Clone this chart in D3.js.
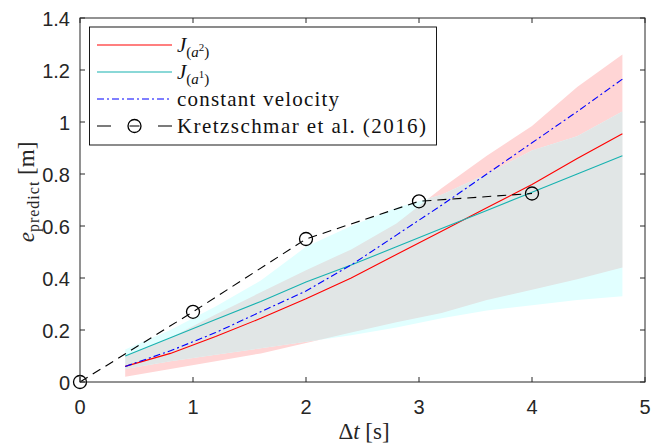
<!DOCTYPE html>
<html><head><meta charset="utf-8">
<script src="https://cdn.jsdelivr.net/npm/d3@7"></script>
<style>body{margin:0;background:#fff}</style>
</head><body>
<svg id="c" width="652" height="445"></svg>
<script>
// ---- data ----
const tGrid = [0.4,0.8,1.2,1.6,2.0,2.4,2.8,3.2,3.6,4.0,4.4,4.8];
const jA2 = [0.06,0.11,0.175,0.245,0.32,0.40,0.49,0.58,0.67,0.76,0.86,0.955];
const jA2Upper = [0.10,0.17,0.26,0.345,0.43,0.51,0.61,0.745,0.87,0.985,1.135,1.26];
const jA2Lower = [0.02,0.05,0.08,0.11,0.15,0.19,0.23,0.265,0.315,0.355,0.395,0.44];
const jA1 = [0.10,0.17,0.24,0.31,0.385,0.45,0.52,0.59,0.66,0.73,0.80,0.87];
const jA1Upper = [0.125,0.20,0.29,0.39,0.52,0.60,0.67,0.72,0.80,0.89,0.945,1.04];
const jA1Lower = [0.05,0.08,0.105,0.13,0.155,0.18,0.21,0.245,0.275,0.295,0.315,0.33];
const constVel = [0.06,0.12,0.19,0.27,0.35,0.45,0.565,0.68,0.80,0.92,1.04,1.165];
const kretzT = [0,1,2,3,4];
const kretzV = [0,0.27,0.55,0.695,0.725];
const xTicks = [0,1,2,3,4,5];
const yTicks = [0,0.2,0.4,0.6,0.8,1,1.2,1.4];

const svg = d3.select("#c");
const L=80,R=645,T=18,B=382;
const x = d3.scaleLinear().domain([0,5]).range([L,R]);
const y = d3.scaleLinear().domain([0,1.4]).range([B,T]);
const axisColor = "#262626";

const area = (lo,hi)=>d3.area().x((d,i)=>x(tGrid[i])).y0((d,i)=>y(lo[i])).y1((d,i)=>y(hi[i]))(tGrid);
const defs = svg.append("defs");
defs.append("clipPath").attr("id","clipA1").append("path").attr("d",area(jA1Lower,jA1Upper));

svg.append("path").attr("d",area(jA2Lower,jA2Upper)).attr("fill","#ffd5d5");
svg.append("path").attr("d",area(jA1Lower,jA1Upper)).attr("fill","#e1ffff");
svg.append("path").attr("d",area(jA2Lower,jA2Upper)).attr("fill","#e1e6e6").attr("clip-path","url(#clipA1)");

const line = vals=>d3.line().x((d,i)=>x(tGrid[i])).y((d,i)=>y(vals[i]))(tGrid);
svg.append("path").attr("d",line(jA2)).attr("fill","none").attr("stroke","#ff0000").attr("stroke-width",1.1);
svg.append("path").attr("d",line(jA1)).attr("fill","none").attr("stroke","#17b2b0").attr("stroke-width",1.1);
svg.append("path").attr("d",line(constVel)).attr("fill","none").attr("stroke","#0000ff").attr("stroke-width",1.1).attr("stroke-dasharray","7,3,2,3");
svg.append("path").attr("d",d3.line().x((d,i)=>x(kretzT[i])).y(d=>y(d))(kretzV)).attr("fill","none").attr("stroke","#000").attr("stroke-width",1.1).attr("stroke-dasharray","9,6");
svg.selectAll("circle.k").data(kretzV).join("circle").attr("class","k")
  .attr("cx",(d,i)=>x(kretzT[i])).attr("cy",d=>y(d)).attr("r",6.5).attr("fill","none").attr("stroke","#000").attr("stroke-width",1.3);

// axes box
const tl=5;
const g = svg.append("g");
g.append("rect").attr("x",L).attr("y",T).attr("width",R-L).attr("height",B-T).attr("fill","none").attr("stroke",axisColor).attr("stroke-width",1);
const sans = "Liberation Sans, Arial, sans-serif";
xTicks.forEach(v=>{
  g.append("line").attr("x1",x(v)).attr("x2",x(v)).attr("y1",B).attr("y2",B-tl).attr("stroke",axisColor);
  g.append("line").attr("x1",x(v)).attr("x2",x(v)).attr("y1",T).attr("y2",T+tl).attr("stroke",axisColor);
  g.append("text").attr("x",x(v)).attr("y",B+32).attr("text-anchor","middle").attr("fill",axisColor)
   .attr("font-family",sans).attr("font-size",20).text(d3.format("")(v));
});
yTicks.forEach(v=>{
  g.append("line").attr("x1",L).attr("x2",L+tl).attr("y1",y(v)).attr("y2",y(v)).attr("stroke",axisColor);
  g.append("line").attr("x1",R).attr("x2",R-tl).attr("y1",y(v)).attr("y2",y(v)).attr("stroke",axisColor);
  g.append("text").attr("x",L-10).attr("y",y(v)+7.5).attr("text-anchor","end").attr("fill",axisColor)
   .attr("font-family",sans).attr("font-size",20).text(d3.format("")(v));
});

const serif = "Liberation Serif, Times New Roman, serif";
// x label
const xl = svg.append("text").attr("x",364).attr("y",439).attr("text-anchor","middle").attr("font-family",serif).attr("font-size",23).attr("fill","#262626");
xl.append("tspan").text("Δ");
xl.append("tspan").attr("font-style","italic").text("t");
xl.append("tspan").text(" [s]");
// y label
const yl = svg.append("text").attr("transform","translate(34,192) rotate(-90)").attr("text-anchor","middle").attr("font-family",serif).attr("font-size",23).attr("fill","#262626");
yl.append("tspan").attr("font-style","italic").text("e");
yl.append("tspan").attr("font-size",16).attr("letter-spacing",1).attr("dy",5).text("predict");
yl.append("tspan").attr("dy",-5).text(" [m]");

// legend
const lg = svg.append("g");
lg.append("rect").attr("x",89.5).attr("y",27).attr("width",347).attr("height",118).attr("fill","#fff").attr("stroke","#000").attr("stroke-width",0.9);
const rows=[45,72,99,126];
const lx1=97,lx2=172,tx=177;
lg.append("line").attr("x1",lx1).attr("x2",lx2).attr("y1",rows[0]).attr("y2",rows[0]).attr("stroke","#ff0000").attr("stroke-width",1.1);
lg.append("line").attr("x1",lx1).attr("x2",lx2).attr("y1",rows[1]).attr("y2",rows[1]).attr("stroke","#17b2b0").attr("stroke-width",1.1);
lg.append("line").attr("x1",lx1).attr("x2",lx2).attr("y1",rows[2]).attr("y2",rows[2]).attr("stroke","#0000ff").attr("stroke-width",1.1).attr("stroke-dasharray","7,3,2,3");
lg.append("line").attr("x1",lx1).attr("x2",lx1+14).attr("y1",rows[3]).attr("y2",rows[3]).attr("stroke","#333").attr("stroke-width",1.3);
lg.append("line").attr("x1",lx2-14).attr("x2",lx2).attr("y1",rows[3]).attr("y2",rows[3]).attr("stroke","#333").attr("stroke-width",1.3);
lg.append("line").attr("x1",(lx1+lx2)/2-5).attr("x2",(lx1+lx2)/2+5).attr("y1",rows[3]).attr("y2",rows[3]).attr("stroke","#333").attr("stroke-width",1.3);
lg.append("circle").attr("cx",(lx1+lx2)/2).attr("cy",rows[3]).attr("r",6.5).attr("fill","none").attr("stroke","#000").attr("stroke-width",1.3);
const lt = (i)=>lg.append("text").attr("x",tx).attr("y",rows[i]+7).attr("font-family",serif).attr("font-size",21).attr("fill","#111");
let t0=lt(0); t0.append("tspan").attr("font-style","italic").text("J");
t0.append("tspan").attr("font-size",15).attr("dy",5).text("(");
t0.append("tspan").attr("font-size",15).attr("font-style","italic").text("a");
t0.append("tspan").attr("font-size",11).attr("dy",-6).text("2");
t0.append("tspan").attr("font-size",15).attr("dy",6).text(")");
let t1=lt(1); t1.append("tspan").attr("font-style","italic").text("J");
t1.append("tspan").attr("font-size",15).attr("dy",5).text("(");
t1.append("tspan").attr("font-size",15).attr("font-style","italic").text("a");
t1.append("tspan").attr("font-size",11).attr("dy",-6).text("1");
t1.append("tspan").attr("font-size",15).attr("dy",6).text(")");
lt(2).attr("textLength",162).attr("lengthAdjust","spacing").text("constant velocity");
lt(3).attr("textLength",249).attr("lengthAdjust","spacing").text("Kretzschmar et al. (2016)");
</script>
</body></html>
